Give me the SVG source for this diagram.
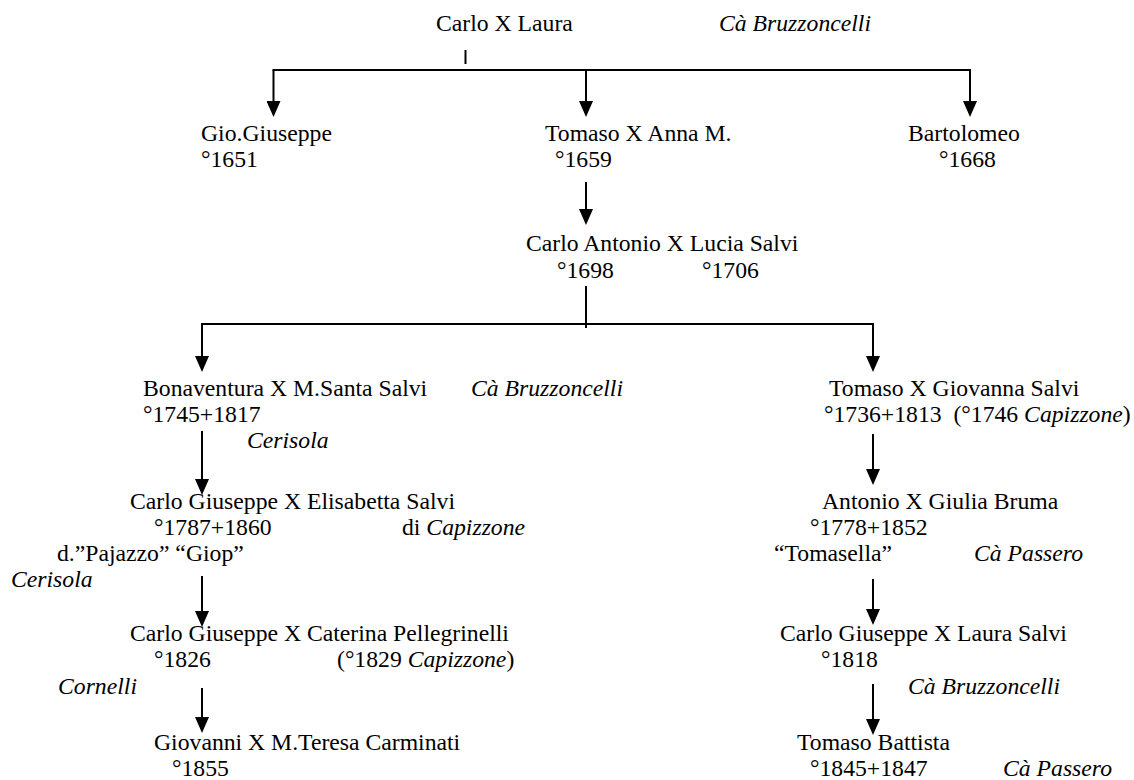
<svg xmlns="http://www.w3.org/2000/svg" width="1134" height="780" viewBox="0 0 1134 780">
  <defs>
    <style>
      text { font-family: "Liberation Serif", "Times New Roman", serif; font-size: 23.7px; fill: #000; }
      .place { font-style: italic; }
      .link { stroke: #000; stroke-width: 2; fill: none; }
      .arrow { stroke: #000; stroke-width: 2; fill: none; marker-end: url(#head); }
    </style>
    <marker id="head" viewBox="0 0 16 14" markerWidth="16" markerHeight="14" refX="6" refY="7" orient="auto" markerUnits="userSpaceOnUse">
      <path d="M0,0 L16,7 L0,14 z" fill="#000"/>
    </marker>
  </defs>
  <rect width="1134" height="780" fill="#fff"/>

  <!-- connectors -->
  <g id="connectors">
    <line class="link" x1="465.5" y1="50" x2="465.5" y2="64"/>
    <line class="link" x1="272.5" y1="70" x2="971" y2="70"/>
    <line class="arrow" x1="273.5" y1="70" x2="273.5" y2="107"/>
    <line class="arrow" x1="586" y1="70" x2="586" y2="107"/>
    <line class="arrow" x1="970" y1="70" x2="970" y2="107"/>
    <line class="arrow" x1="586" y1="182" x2="586" y2="215"/>
    <line class="link" x1="586" y1="286" x2="586" y2="328"/>
    <line class="link" x1="201" y1="324" x2="874" y2="324"/>
    <line class="arrow" x1="202" y1="324" x2="202" y2="362"/>
    <line class="arrow" x1="873" y1="324" x2="873" y2="362"/>
    <line class="arrow" x1="202" y1="431" x2="202" y2="485"/>
    <line class="arrow" x1="202" y1="576" x2="202" y2="617"/>
    <line class="arrow" x1="202" y1="688" x2="202" y2="723"/>
    <line class="arrow" x1="873" y1="434" x2="873" y2="475"/>
    <line class="arrow" x1="873" y1="579" x2="873" y2="615"/>
    <line class="arrow" x1="873" y1="684" x2="873" y2="725"/>
  </g>

  <g id="carlo-laura">
    <text x="436" y="31">Carlo X Laura</text>
    <text class="place" x="719" y="31">Cà Bruzzoncelli</text>
  </g>

  <g id="gio-giuseppe">
    <text x="201" y="141">Gio.Giuseppe</text>
    <text x="201" y="167">°1651</text>
  </g>

  <g id="tomaso-anna">
    <text x="545" y="141">Tomaso X Anna M.</text>
    <text x="555" y="167">°1659</text>
  </g>

  <g id="bartolomeo">
    <text x="908" y="141">Bartolomeo</text>
    <text x="939" y="167">°1668</text>
  </g>

  <g id="carlo-antonio-lucia">
    <text x="526" y="251">Carlo Antonio X Lucia Salvi</text>
    <text x="557" y="278">°1698</text>
    <text x="702" y="278">°1706</text>
  </g>

  <g id="bonaventura-santa">
    <text x="143" y="396">Bonaventura X M.Santa Salvi</text>
    <text class="place" x="471" y="396">Cà Bruzzoncelli</text>
    <text x="143" y="422">°1745+1817</text>
    <text class="place" x="247" y="448">Cerisola</text>
  </g>

  <g id="tomaso-giovanna">
    <text x="829" y="396">Tomaso X Giovanna Salvi</text>
    <text x="824" y="422" xml:space="preserve">°1736+1813  (°1746 <tspan class="place">Capizzone</tspan>)</text>
  </g>

  <g id="carlo-giuseppe-elisabetta">
    <text x="130" y="509">Carlo Giuseppe X Elisabetta Salvi</text>
    <text x="154" y="535">°1787+1860</text>
    <text x="402" y="535">di <tspan class="place">Capizzone</tspan></text>
    <text x="57" y="561">d.”Pajazzo” “Giop”</text>
    <text class="place" x="11" y="587">Cerisola</text>
  </g>

  <g id="antonio-giulia">
    <text x="822" y="509">Antonio X Giulia Bruma</text>
    <text x="810" y="535">°1778+1852</text>
    <text x="774" y="561">“Tomasella”</text>
    <text class="place" x="974" y="561">Cà Passero</text>
  </g>

  <g id="carlo-giuseppe-caterina">
    <text x="130" y="641">Carlo Giuseppe X Caterina Pellegrinelli</text>
    <text x="154" y="667">°1826</text>
    <text x="337" y="667">(°1829 <tspan class="place">Capizzone</tspan>)</text>
    <text class="place" x="58" y="694">Cornelli</text>
  </g>

  <g id="carlo-giuseppe-laura">
    <text x="780" y="641">Carlo Giuseppe X Laura Salvi</text>
    <text x="821" y="667">°1818</text>
    <text class="place" x="908" y="694">Cà Bruzzoncelli</text>
  </g>

  <g id="giovanni-teresa">
    <text x="154" y="750">Giovanni X M.Teresa Carminati</text>
    <text x="172" y="776">°1855</text>
  </g>

  <g id="tomaso-battista">
    <text x="797" y="750">Tomaso Battista</text>
    <text x="810" y="776">°1845+1847</text>
    <text class="place" x="1003" y="776">Cà Passero</text>
  </g>
</svg>
